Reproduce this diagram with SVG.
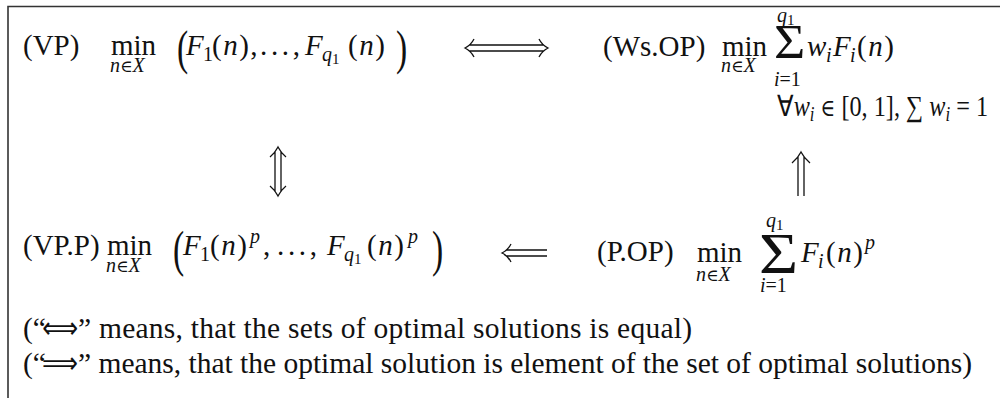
<svg xmlns="http://www.w3.org/2000/svg" width="1000" height="398" viewBox="0 0 1000 398">
<style>
.t{font-family:"Liberation Serif","Times New Roman",serif;fill:#111}
.lb{font-size:29px}
.m{font-size:29px}
.it{font-style:italic}
.ls{letter-spacing:1.5px}
.sb{font-size:20px}
.ss{font-size:15px}
.el{font-family:"DejaVu Serif",serif;font-size:17px}
.el2{font-family:"DejaVu Serif",serif;font-size:24px}
.big{font-size:48px}
.nt{font-size:29.5px}
.na{font-family:"DejaVu Sans",sans-serif;font-size:30px}
.arr{fill:none;stroke:#111;stroke-width:1.3}
.frame{fill:none;stroke:#333;stroke-width:1.6}
</style>
<rect width="1000" height="398" fill="#fff"/>
<path class="frame" d="M8,398 V6.5 H1000"/>

<g id="vp">
<text class="t lb" x="23" y="55">(VP)</text>
<text class="t m" x="111" y="55">min</text>
<text class="t sb" x="110" y="72"><tspan class="it">n</tspan><tspan class="el">∈</tspan><tspan class="it">X</tspan></text>
<text class="t big" transform="translate(177,64) scale(0.7,1)">(</text>
<text class="t m it" x="186" y="55">F</text>
<text class="t sb" x="203" y="61">1</text>
<text class="t m ls" x="212" y="55">(<tspan class="it">n</tspan>),</text>
<text class="t m" x="260" y="55" textLength="40">. . . ,</text>
<text class="t m it" x="305" y="55">F</text>
<text class="t sb it" x="322" y="61">q</text>
<text class="t ss" x="332" y="64">1</text>
<text class="t m ls" x="348" y="55">(<tspan class="it">n</tspan>)</text>
<text class="t big" transform="translate(396,64) scale(0.7,1)">)</text>
</g>

<g id="wsop">
<text class="t lb" x="603" y="56">(Ws.OP)</text>
<text class="t m" x="722" y="56">min</text>
<text class="t sb" x="721" y="72"><tspan class="it">n</tspan><tspan class="el">∈</tspan><tspan class="it">X</tspan></text>
<text class="t" font-size="48" transform="translate(774,58) scale(1.12,1)">Σ</text>
<text class="t sb it" x="777" y="22">q</text>
<text class="t ss" x="787" y="25">1</text>
<text class="t sb" x="774" y="86"><tspan class="it">i</tspan>=1</text>
<text class="t m it" x="807" y="56">w</text>
<text class="t sb it" x="826" y="62">i</text>
<text class="t m it" x="833" y="56">F</text>
<text class="t sb it" x="850" y="62">i</text>
<text class="t m ls" x="857" y="56">(<tspan class="it">n</tspan>)</text>
<text class="t m" x="777" y="116" textLength="211" lengthAdjust="spacingAndGlyphs">∀<tspan class="it">w</tspan><tspan class="sb it" dy="5">i</tspan><tspan dy="-5"> </tspan><tspan class="el2">∈</tspan><tspan> [0, 1], ∑ </tspan><tspan class="it">w</tspan><tspan class="sb it" dy="5">i</tspan><tspan dy="-5"> = 1</tspan></text>
</g>

<g id="vpp">
<text class="t lb" x="23" y="255">(VP.P)</text>
<text class="t m" x="107" y="255">min</text>
<text class="t sb" x="106" y="272"><tspan class="it">n</tspan><tspan class="el">∈</tspan><tspan class="it">X</tspan></text>
<text class="t big" transform="translate(173,266) scale(0.7,1.05)">(</text>
<text class="t m it" x="183" y="255">F</text>
<text class="t sb" x="200" y="261">1</text>
<text class="t m ls" x="210" y="255">(<tspan class="it">n</tspan>)</text>
<text class="t sb it" x="250" y="243">p</text>
<text class="t m" x="263" y="255">,</text>
<text class="t m" x="277" y="255" textLength="40">. . . ,</text>
<text class="t m it" x="327" y="255">F</text>
<text class="t sb it" x="344" y="261">q</text>
<text class="t ss" x="354" y="264">1</text>
<text class="t m ls" x="367" y="255">(<tspan class="it">n</tspan>)</text>
<text class="t sb it" x="408" y="243">p</text>
<text class="t big" transform="translate(432,266) scale(0.7,1.05)">)</text>
</g>

<g id="pop">
<text class="t lb" x="597" y="261">(P.OP)</text>
<text class="t m" x="697" y="262">min</text>
<text class="t sb" x="696" y="281"><tspan class="it">n</tspan><tspan class="el">∈</tspan><tspan class="it">X</tspan></text>
<text class="t" font-size="56" transform="translate(759,273) scale(1.2,1)">Σ</text>
<text class="t sb it" x="766" y="227">q</text>
<text class="t ss" x="776" y="230">1</text>
<text class="t sb" x="760" y="292"><tspan class="it">i</tspan>=1</text>
<text class="t m it" x="801" y="262">F</text>
<text class="t sb it" x="818" y="268">i</text>
<text class="t m ls" x="826" y="262">(<tspan class="it">n</tspan>)</text>
<text class="t sb it" x="865" y="249">p</text>
</g>

<g id="connectors">
<path class="arr" d="M469,45 H544 M469,51 H544 M474,39 Q471,45 465,48 Q471,51 474,57 M539,39 Q542,45 548,48 Q542,51 539,57"/>
<path class="arr" d="M275,151 V192 M281,151 V192 M270,157 Q275,153 278,147 Q281,153 286,157 M270,186 Q275,190 278,196 Q281,190 286,186"/>
<path class="arr" d="M798,157 V196 M804,157 V196 M792,163 Q798,158 801,152 Q804,158 810,163"/>
<path class="arr" d="M506,250 H547 M506,256 H547 M511,244 Q508,250 502,253 Q508,256 511,262"/>
</g>

<g id="notes">
<text class="t nt" y="338"><tspan x="23">(“</tspan><tspan class="na" x="42" textLength="36" lengthAdjust="spacingAndGlyphs">⟺</tspan><tspan x="78" textLength="614">” means, that the sets of optimal solutions is equal)</tspan></text>
<text class="t nt" y="373"><tspan x="23">(“</tspan><tspan class="na" x="42" textLength="36" lengthAdjust="spacingAndGlyphs">⟹</tspan><tspan x="78" textLength="894">” means, that the optimal solution is element of the set of optimal solutions)</tspan></text>
</g>
</svg>
